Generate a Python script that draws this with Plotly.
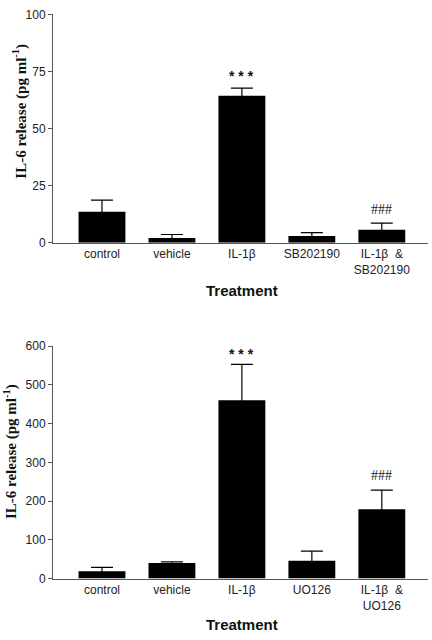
import plotly.graph_objects as go

categories_top = ["control", "vehicle", "IL-1β", "SB202190", "IL-1β  &<br>SB202190"]
means_top = [13.6, 2.1, 64.4, 2.9, 5.7]
errors_top = [5.1, 1.5, 3.3, 1.5, 2.9]

categories_bottom = ["control", "vehicle", "IL-1β", "UO126", "IL-1β  &<br>UO126"]
means_bottom = [19, 40, 460, 46, 179]
errors_bottom = [10, 3, 93, 25, 49]

y_ticks_top = [0, 25, 50, 75, 100]
y_ticks_bottom = [0, 100, 200, 300, 400, 500, 600]

fig = go.Figure()

fig.add_trace(go.Bar(
    x=categories_top, y=means_top, xaxis="x", yaxis="y",
    marker=dict(color="black", line=dict(width=0)),
    error_y=dict(type="data", array=errors_top, symmetric=True,
                 color="black", thickness=1.2, width=11),
    showlegend=False,
))
fig.add_trace(go.Bar(
    x=categories_bottom, y=means_bottom, xaxis="x2", yaxis="y2",
    marker=dict(color="black", line=dict(width=0)),
    error_y=dict(type="data", array=errors_bottom, symmetric=True,
                 color="black", thickness=1.2, width=11),
    showlegend=False,
))

tickfont = dict(family="Liberation Sans, Arial", size=12, color="#222")
axis_common = dict(showline=True, linecolor="#555", linewidth=1, showgrid=False,
                   zeroline=False, tickfont=tickfont)

fig.update_layout(
    width=432, height=640,
    margin=dict(l=0, r=0, t=0, b=0),
    paper_bgcolor="white", plot_bgcolor="white",
    bargap=0.33,
    xaxis=dict(domain=[0.1227, 0.9907], anchor="y", range=[-0.7, 4.66],
               ticks="", **axis_common),
    yaxis=dict(domain=[0.6234, 0.9883], anchor="x", range=[0, 100],
               tickvals=y_ticks_top, ticks="outside", ticklen=4, tickcolor="#555",
               **axis_common),
    xaxis2=dict(domain=[0.1227, 0.9907], anchor="y2", range=[-0.7, 4.66],
                ticks="", **axis_common),
    yaxis2=dict(domain=[0.0870, 0.4583], anchor="x2", range=[0, 600],
                tickvals=y_ticks_bottom, ticks="outside", ticklen=4, tickcolor="#555",
                **axis_common),
)

ytitle = "IL-6 release (pg ml<sup>-1</sup>)"
titlefont = dict(family="Liberation Serif, Times New Roman", size=15, color="#111")
fig.add_annotation(text="<b>" + ytitle + "</b>", xref="paper", yref="paper",
                   x=20/432, y=1-107/640, textangle=-90, showarrow=False,
                   font=titlefont, xanchor="center", yanchor="middle")
fig.add_annotation(text="<b>" + ytitle + "</b>", xref="paper", yref="paper",
                   x=10/432, y=1-455/640, textangle=-90, showarrow=False,
                   font=titlefont, xanchor="center", yanchor="middle")

xfont = dict(family="Liberation Sans, Arial", size=15, color="#111")
fig.add_annotation(text="<b>Treatment</b>", xref="paper", yref="paper",
                   x=242/432, y=1-290/640, showarrow=False, font=xfont,
                   xanchor="center", yanchor="middle")
fig.add_annotation(text="<b>Treatment</b>", xref="paper", yref="paper",
                   x=242/432, y=1-631/640, showarrow=False, font=xfont,
                   xanchor="center", yanchor="middle")

starfont = dict(family="Liberation Sans, Arial", size=14, color="#111")
hashfont = dict(family="Liberation Serif, Times New Roman", size=14, color="#222")
fig.add_annotation(text="<b>* * *</b>", x="IL-1β", y=means_top[2] + errors_top[2],
                   xref="x", yref="y", showarrow=False, yshift=12, font=starfont)
fig.add_annotation(text="###", x="IL-1β  &<br>SB202190", y=means_top[4] + errors_top[4],
                   xref="x", yref="y", showarrow=False, yshift=14, font=hashfont)
fig.add_annotation(text="<b>* * *</b>", x="IL-1β", y=means_bottom[2] + errors_bottom[2],
                   xref="x2", yref="y2", showarrow=False, yshift=10, font=starfont)
fig.add_annotation(text="###", x="IL-1β  &<br>UO126", y=means_bottom[4] + errors_bottom[4],
                   xref="x2", yref="y2", showarrow=False, yshift=15, font=hashfont)

fig.write_html("out.html", config={"displayModeBar": False},
               post_script="document.body.style.margin='0';")
